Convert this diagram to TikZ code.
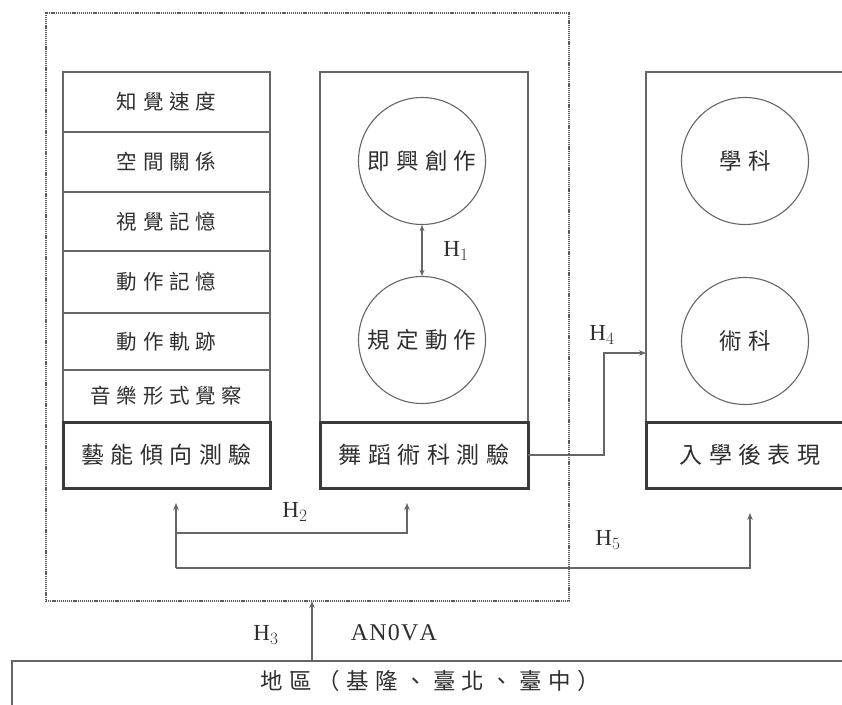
\documentclass[tikz,border=0pt]{standalone}
\usepackage{fontspec}
\setmainfont{Liberation Serif}
\newfontfamily\cjk[LetterSpace=28]{Noto Sans CJK TC}
\usetikzlibrary{arrows.meta}
\definecolor{linegray}{HTML}{666666}
\definecolor{boldc}{HTML}{3A3A3A}
\definecolor{txt}{HTML}{2E2E2E}
\begin{document}
\begin{tikzpicture}[x=1pt,y=-1pt,
  rowbox/.style={draw=linegray, line width=1.1pt, minimum width=207pt, inner sep=0pt, outer sep=0pt,
    font=\cjk\fontsize{20.5}{21}\selectfont, text=txt},
  frame/.style={draw=linegray, line width=1.1pt, inner sep=0pt, outer sep=0pt},
  boldbox/.style={draw=boldc, line width=3pt, minimum width=207pt, minimum height=66pt, inner sep=0pt, outer sep=0pt,
    font=\cjk\fontsize{23}{23}\selectfont, text=txt},
  circ/.style={circle, draw=linegray, line width=1.1pt, minimum size=127pt, inner sep=0pt,
    font=\cjk\fontsize{22.5}{23}\selectfont, text=txt},
  conn/.style={draw=linegray, line width=1.1pt},
  arr/.style={conn, -{Stealth[length=7pt,width=5.5pt]}},
  dbl/.style={conn, {Stealth[length=6pt,width=5pt]}-{Stealth[length=6pt,width=5pt]}},
  hlab/.style={font=\fontsize{23}{23}\selectfont, text=txt, inner sep=0pt},
  dots/.style={draw=linegray!90!black, line width=2.4pt, dash pattern=on 1.2pt off 0.9pt}
]
\useasboundingbox (0,0) rectangle (842,704);
\clip (0,0) rectangle (842,704);

% outer dotted group
\node[dots, minimum width=523pt, minimum height=588pt, inner sep=0pt, outer sep=0pt] (outer) at (307.5,307) {};

% left column
\node[rowbox, minimum height=60pt] (r1) at (166.5,102) {知覺速度};
\node[rowbox, minimum height=60pt] (r2) at (166.5,162) {空間關係};
\node[rowbox, minimum height=59pt] (r3) at (166.5,221.5) {視覺記憶};
\node[rowbox, minimum height=62pt] (r4) at (166.5,282) {動作記憶};
\node[rowbox, minimum height=57pt] (r5) at (166.5,341.5) {動作軌跡};
\node[rowbox, minimum height=52pt] (r6) at (166.5,396) {音樂形式覺察};
\node[boldbox] (apt) at (166.5,455) {藝能傾向測驗};

% middle column
\node[frame, minimum width=208pt, minimum height=350pt] (midframe) at (424,247) {};
\node[circ] (c1) at (422,161) {即興創作};
\node[circ] (c2) at (422,340) {規定動作};
\node[boldbox, minimum width=208pt] (dance) at (424,455) {舞蹈術科測驗};

% right column
\node[frame, minimum width=208pt, minimum height=350pt] (rightframe) at (750,247) {};
\node[circ] (c3) at (745,161) {學科};
\node[circ] (c4) at (745,341) {術科};
\node[boldbox, minimum width=208pt] (perf) at (750,455) {入學後表現};

% bottom region box
\node[frame, minimum width=860pt, minimum height=60pt] (region) at (442,691) {};
\node[font=\cjk\fontsize{22.5}{23}\selectfont, text=txt, inner sep=0pt] (regiontext) at (430,681) {地區（基隆、臺北、臺中）};

% H1
\draw[dbl] (c1.south) -- (c2.north);
\node[hlab] (h1) at (456,251) {H$_1$};

% H2 and H5
\coordinate (la) at (176,503);
\coordinate (lb) at (176,568);
\coordinate (ma) at (407,503);
\coordinate (mb) at (407,533);
\coordinate (ra) at (750,513);
\coordinate (rb) at (750,568);
\draw[arr] (lb) -- (la);
\draw[arr] (la |- mb) -- (mb) -- (ma);
\draw[arr] (lb) -- (rb) -- (ra);
\node[hlab] (h2) at (295,512) {H$_2$};
\node[hlab] (h5) at (608,540) {H$_5$};

% H4
\coordinate (k1) at (604,455);
\coordinate (k2) at (604,353);
\draw[arr] (dance.east) -- (k1) -- (k2) -- (rightframe.west |- k2);
\node[hlab] (h4) at (602,335) {H$_4$};

% H3
\coordinate (h3x) at (312,0);
\draw[arr] (region.north -| h3x) -- (outer.south -| h3x);
\node[hlab] (h3) at (266,635) {H$_3$};
\node[hlab, font=\fontsize{24}{24}\selectfont] (anova) at (394,633) {A\kern1.2ptN\kern1.2pt0\kern1.2ptV\kern1.2ptA};
\end{tikzpicture}
\end{document}
